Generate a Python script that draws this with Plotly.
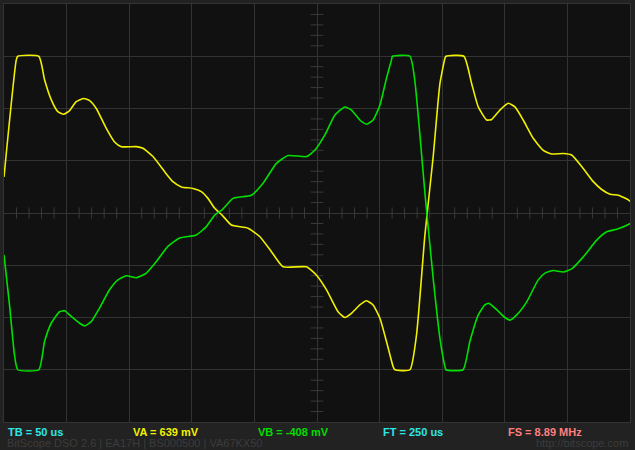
import plotly.graph_objects as go

# ---- data (time in us, amplitude in divisions) ----
ya_t = [0, 9.8, 11.0, 27.8, 32.4, 37.7, 43.0, 47.6, 52.4, 57.7, 63.8, 68.4, 73.7, 81.7, 88.3,
        93.7, 105.7, 111.0, 119.0, 128.3, 134.9, 141.7, 150.9, 157.6, 162.9, 168.3, 174.2,
        181.6, 194.9, 204.2, 213.6, 222.9, 241.6, 249.6, 257.6, 266.8, 272.2, 277.5, 284.2,
        289.6, 294.8, 300.2, 305.5, 310.8, 312.2, 324.2, 329.5, 336.2, 342.8, 348.2, 352.2,
        353.0, 367.3, 373.5, 378.8, 385.5, 389.5, 396.1, 402.8, 408.1, 414.7, 422.7, 430.7,
        437.4, 446.7, 453.4, 462.7, 470.7, 477.4, 484.1, 490.8, 498.7, 500]
ya_v = [0.69, 2.93, 3.0, 3.0, 2.55, 2.17, 1.94, 1.89, 1.96, 2.13, 2.19, 2.15, 2.00, 1.62, 1.36,
        1.27, 1.27, 1.24, 1.08, 0.79, 0.60, 0.50, 0.47, 0.41, 0.28, 0.09, -0.04,
        -0.23, -0.29, -0.45, -0.74, -1.03, -1.03, -1.19, -1.47, -1.89, -2.00, -1.92, -1.76,
        -1.68, -1.76, -2.01, -2.46, -2.94, -3.0, -3.0, -2.33, -0.42, 1.08, 2.48, 2.96,
        3.0, 3.0, 2.48, 2.03, 1.78, 1.79, 1.97, 2.10, 2.03, 1.78, 1.43, 1.20,
        1.13, 1.14, 1.11, 0.85, 0.60, 0.45, 0.36, 0.34, 0.25, 0.22]

vb_t = [0, 4.4, 8.4, 11.0, 27.8, 32.4, 37.7, 44.4, 48.4, 53.7, 60.4, 64.4, 69.7, 76.3, 84.3,
        91.0, 97.7, 105.7, 113.7, 121.7, 130.9, 140.3, 153.6, 161.6, 168.3, 174.2, 182.9,
        197.6, 206.9, 217.6, 226.9, 241.6, 248.2, 256.2, 264.2, 272.2, 277.5, 284.2, 289.6,
        294.8, 300.2, 305.5, 309.5, 310.3, 324.2, 328.1, 332.1, 336.2, 342.8, 348.2, 352.2,
        353.0, 366.6, 372.1, 378.8, 384.1, 387.3, 393.5, 400.1, 404.1, 409.5, 417.5, 426.7,
        432.1, 438.8, 446.7, 453.4, 462.7, 473.4, 481.4, 489.5, 498.7, 500]
vb_v = [-0.80, -1.76, -2.72, -3.0, -3.0, -2.46, -2.11, -1.89, -1.87, -1.98, -2.11, -2.16, -2.08,
        -1.82, -1.47, -1.28, -1.20, -1.24, -1.15, -0.93, -0.64, -0.48, -0.42, -0.26, -0.04,
        0.06, 0.28, 0.34, 0.57, 0.95, 1.10, 1.08, 1.20, 1.49, 1.87, 2.03, 1.97, 1.78, 1.70,
        1.78, 2.06, 2.58, 2.93, 3.0, 3.0, 2.54, 1.52, 0.38, -1.25, -2.40, -2.94,
        -3.0, -3.0, -2.46, -1.95, -1.76, -1.73, -1.85, -2.00, -2.05, -1.95, -1.70, -1.28,
        -1.15, -1.10, -1.13, -1.07, -0.84, -0.52, -0.36, -0.31, -0.22, -0.20]

status_labels = ["TB = 50 us", "VA = 639 mV", "VB = -408 mV", "FT = 250 us", "FS = 8.89 MHz"]
status_colors = ["#2ee6e6", "#f2f200", "#00dd00", "#2ee6e6", "#ff7f7f"]
footer_left = "BitScope DSO 2.6 | EA17H | BS000500 | VA67KX50"
footer_right = "http://bitscope.com"

# minor tick positions along centre lines
minor_x = [i * 10 for i in range(1, 50) if i % 5 != 0]
minor_y = [i * 0.2 - 4 for i in range(1, 40) if i % 5 != 0]

W, H = 635, 450
ML, MR, MT, MB = 4, 5, 4, 28

fig = go.Figure()
fig.add_trace(go.Scatter(x=minor_x, y=[0] * len(minor_x), mode="markers",
                         marker=dict(symbol="line-ns", size=8, line=dict(color="#3a3a3a", width=1)),
                         hoverinfo="skip"))
fig.add_trace(go.Scatter(x=[250] * len(minor_y), y=minor_y, mode="markers",
                         marker=dict(symbol="line-ew", size=9, line=dict(color="#3a3a3a", width=1)),
                         hoverinfo="skip"))
fig.add_trace(go.Scatter(x=ya_t, y=ya_v, mode="lines",
                         line=dict(color="#f0f000", width=1.6, shape="spline", smoothing=0.5)))
fig.add_trace(go.Scatter(x=vb_t, y=vb_v, mode="lines",
                         line=dict(color="#00e000", width=1.6, shape="spline", smoothing=0.5)))

ph = H - MT - MB
def py(pix):
    return (H - MB - pix) / ph

pw = W - ML - MR
def px(pix):
    return (pix - ML) / pw

ann = []
for i, (lab, col) in enumerate(zip(status_labels, status_colors)):
    ann.append(dict(text="<b>" + lab + "</b>", x=px(6 + 125 * i), y=py(432), xref="paper", yref="paper",
                    xanchor="left", yanchor="middle", showarrow=False,
                    font=dict(family="Liberation Sans, Arial", size=11, color=col)))
ann.append(dict(text=footer_left, x=px(5), y=py(443), xref="paper", yref="paper",
                xanchor="left", yanchor="middle", showarrow=False,
                font=dict(family="Liberation Sans, Arial", size=11, color="#3c3c3c")))
ann.append(dict(text=footer_right, x=px(630), y=py(443), xref="paper", yref="paper",
                xanchor="right", yanchor="middle", showarrow=False,
                font=dict(family="Liberation Sans, Arial", size=11, color="#3c3c3c")))

fig.update_layout(
    width=W, height=H, margin=dict(l=ML, r=MR, t=MT, b=MB, pad=0),
    paper_bgcolor="#222222", plot_bgcolor="#111111", showlegend=False,
    annotations=ann,
    xaxis=dict(range=[0, 500], dtick=50, showgrid=True, gridcolor="#333333", gridwidth=1,
               zeroline=False, showticklabels=False, ticks="", showline=True,
               linecolor="#333333", mirror=True, fixedrange=True),
    yaxis=dict(range=[-4, 4], dtick=1, showgrid=True, gridcolor="#333333", gridwidth=1,
               zeroline=False, showticklabels=False, ticks="", showline=True,
               linecolor="#333333", mirror=True, fixedrange=True),
)
fig.write_html("out.html", config={"displayModeBar": False},
               post_script="document.body.style.margin='0px';document.body.style.overflow='hidden';document.body.style.background='#222222';")
